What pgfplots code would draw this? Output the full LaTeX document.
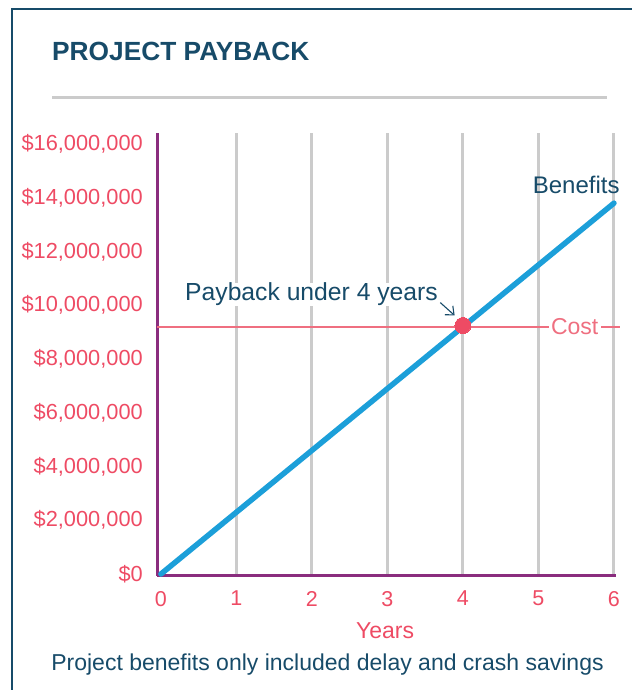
\documentclass[border=0pt]{standalone}
\usepackage{fontspec}
\setmainfont{Liberation Sans}
\usepackage{pgfplots}
\pgfplotsset{compat=1.18}
\usetikzlibrary{arrows.meta}

\definecolor{ink}{HTML}{174B69}
\definecolor{tickred}{HTML}{EE4B64}
\definecolor{costred}{HTML}{EF6F80}
\definecolor{dotred}{HTML}{EE4B64}
\definecolor{purp}{HTML}{8A2D7E}
\definecolor{benblue}{HTML}{1C9FD9}
\definecolor{gridgray}{HTML}{CBCBCB}

\begin{document}
\begin{tikzpicture}
\useasboundingbox (0pt,0pt) rectangle (632pt,-690pt);
% frame
\draw[ink, line width=2.5pt] (12pt,-690pt) -- (12pt,-9pt) -- (632pt,-9pt);
% title and rule
\node[anchor=base west, inner sep=0pt, text=ink, font=\fontsize{26.3}{30}\selectfont\bfseries]
  at (52pt,-61pt) {PROJECT PAYBACK};
\draw[gridgray, line width=3pt] (52pt,-98pt) -- (607pt,-98pt);

\begin{axis}[
  at={(157pt,-575.5pt)}, anchor=south west,
  scale only axis, width=459pt, height=442.5pt,
  xmin=-0.0517, xmax=6.027,
  ymin=-55000, ymax=16410000,
  axis x line=bottom, axis y line=left,
  axis line style={purp, line width=3pt, -},
  major tick length=0pt,
  clip=false,
  xtick={1,2,3,4,5,6},
  extra x ticks={0},
  extra x tick style={grid=none},
  xmajorgrids,
  grid style={gridgray, line width=3pt},
  ytick={0,2000000,4000000,6000000,8000000,10000000,12000000,14000000,16000000},
  yticklabels={{\$0},{\$2,000,000},{\$4,000,000},{\$6,000,000},{\$8,000,000},
    {\$10,000,000},{\$12,000,000},{\$14,000,000},{\$16,000,000}},
  scaled y ticks=false,
  /pgf/number format/assume math mode=true,
  xticklabel style={anchor=north, inner sep=0pt, yshift=-15.5pt, text=tickred,
    font=\fontsize{21.5}{25}\selectfont},
  yticklabel style={anchor=east, inner sep=0pt, xshift=-14pt, text=tickred,
    font=\fontsize{21.8}{25}\selectfont},
]
% cost threshold
\addplot[costred, line width=1.5pt] coordinates {(-0.0517,9200000) (6.08,9200000)};
% cumulative benefits
\addplot[benblue, line width=5.5pt, line cap=round] coordinates {(0,0) (6,13800000)};
% payback point
\addplot[dotred, only marks, mark=*, mark size=8pt, mark options={fill=dotred, draw=dotred, line width=0pt}]
  coordinates {(4,9250000)};

\node[fill=white, inner xsep=2.5pt, inner ysep=1pt, text=costred,
  font=\fontsize{23}{27}\selectfont] at (axis cs:5.48,9200000) {Cost};
\node[anchor=base, inner sep=1pt, text=ink, font=\fontsize{24}{28}\selectfont]
  at (axis cs:5.5,14150000) {Benefits};
\node[anchor=base east, inner sep=0pt, text=ink, fill=white, font=\fontsize{24.7}{28}\selectfont]
  at (axis cs:3.67,10170000) {Payback under 4 years};
\draw[ink, line width=1.1pt, -{Straight Barb[length=7pt,width=12pt]}]
  (axis cs:3.70,10100000) -- (axis cs:3.89,9620000);
\end{axis}

\node[anchor=base, inner sep=0pt, text=tickred, font=\fontsize{23}{27}\selectfont]
  at (385pt,-638pt) {Years};
\node[anchor=base, inner sep=0pt, text=ink, font=\fontsize{23}{27}\selectfont]
  at (327.5pt,-670pt) {Project benefits only included delay and crash savings};
\end{tikzpicture}
\end{document}
